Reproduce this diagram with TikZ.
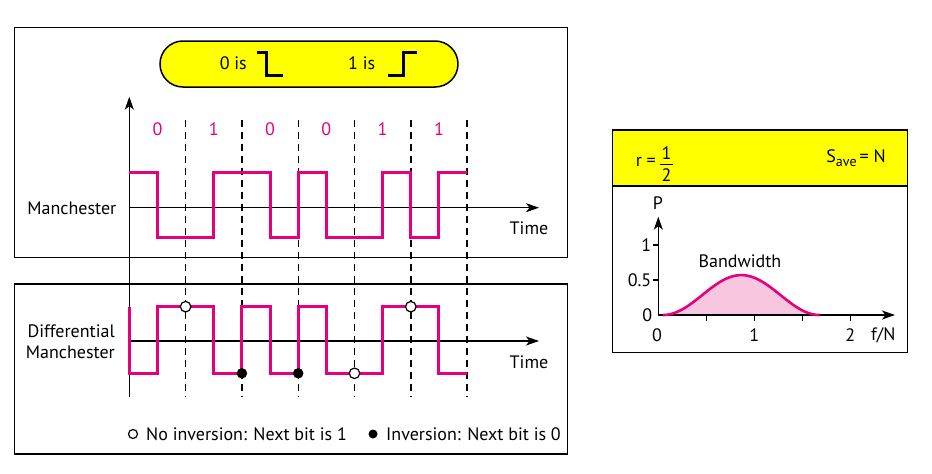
\documentclass[tikz,border=0pt]{standalone}
\usepackage{fontspec}
\setmainfont{PT Sans}
\usetikzlibrary{arrows.meta}
\definecolor{sig}{RGB}{230,0,126}
\definecolor{sigfill}{RGB}{249,198,224}
\definecolor{ylw}{RGB}{255,255,0}
\begin{document}
\begin{tikzpicture}[x=1pt,y=-1pt,
  lbl/.style={font=\fontsize{18}{21}\selectfont, inner sep=0pt},
  bitlbl/.style={lbl, text=sig},
  frame/.style={draw=black, line width=1.2pt},
  axis/.style={line width=1.2pt, -{Stealth[length=13pt,width=9pt,inset=3.5pt]}},
  sigline/.style={draw=sig, line width=3pt, line join=miter},
  gridline/.style={line width=1.4pt, dash pattern=on 7pt off 5pt},
  opendot/.style={circle, draw=black, fill=white, line width=1.2pt, minimum size=10.5pt, inner sep=0pt},
  fulldot/.style={circle, fill=black, minimum size=10.5pt, inner sep=0pt},
  tick/.style={line width=1.2pt}]
\useasboundingbox (0,0) rectangle (932,474);

% ---------- left frames ----------
\draw[frame] (14.3,27.5) rectangle (567.5,257.5);
\draw[frame] (14.3,284) rectangle (567.5,454);

% pill
\node[draw, line width=1.5pt, fill=ylw, rounded corners=23pt, minimum width=298pt, minimum height=46pt] (pill) at (309,64) {};
\node[lbl] (zerois) at (233.3,63.3) {0 is};
\draw[line width=3pt] (256.7,52) -- (266.7,52) -- (266.7,75.7) -- (283.3,75.7);
\node[lbl] (oneis) at (361.7,63.3) {1 is};
\draw[line width=3pt] (388.3,75.7) -- (403.3,75.7) -- (403.3,52) -- (416.7,52);

% dashed bit boundaries
\foreach \bx in {185.6,241.9,298.2,354.5,410.8,467.1}{
  \draw[gridline] (\bx,120) -- (\bx,397);
}

% axes
\coordinate (vbot) at (129.3,397);
\coordinate (vtop) at (129.3,96.7);
\coordinate (h1a) at (129.3,207.7);
\coordinate (h1b) at (539,207.7);
\coordinate (h2a) at (129.3,341);
\coordinate (h2b) at (539,341);
\draw[axis] (vbot) -- (vtop);
\draw[axis] (h1a) -- (h1b);
\draw[axis] (h2a) -- (h2b);

% bit labels
\node[bitlbl] (b0) at (157.45,129.3) {0};
\node[bitlbl] (b1) at (213.75,129.3) {1};
\node[bitlbl] (b2) at (270.05,129.3) {0};
\node[bitlbl] (b3) at (326.35,129.3) {0};
\node[bitlbl] (b4) at (382.65,129.3) {1};
\node[bitlbl] (b5) at (438.95,129.3) {1};

% Manchester signal
\draw[sigline] (129.3,172.7) -| (157.45,237.7) -| (213.75,172.7) -| (270.05,237.7) -| (298.2,172.7) -| (326.35,237.7) -| (382.65,172.7) -| (410.8,237.7) -| (438.95,172.7) -- (467.1,172.7);

% Differential Manchester signal
\draw[sigline] (129.3,306.7) -- (129.3,373.3) -| (157.45,306.7) -| (213.75,373.3) -| (241.9,306.7) -| (270.05,373.3) -| (298.2,306.7) -| (326.35,373.3) -| (382.65,306.7) -| (438.95,373.3) -- (467.1,373.3);

\node[opendot] (c1) at (185.6,306.7) {};
\node[fulldot] (c2) at (241.9,373.3) {};
\node[fulldot] (c3) at (298.2,373.3) {};
\node[opendot] (c4) at (354.5,373.3) {};
\node[opendot] (c5) at (410.8,306.7) {};

% labels
\node[lbl, anchor=east] (man) at (116.5,208) {Manchester};
\node[lbl] (time1) at (529,228) {Time};
\node[lbl, anchor=east, align=right] (dman) at (115,341.7) {Differential\\Manchester};
\node[lbl] (time2) at (529,362) {Time};

% legend
\node[opendot, minimum size=9pt] (lg1) at (133,434) {};
\node[lbl, anchor=west] (lt1) at (146,434) {No inversion: Next bit is 1};
\node[fulldot, minimum size=9pt] (lg2) at (373,434) {};
\node[lbl, anchor=west] (lt2) at (386,434) {Inversion: Next bit is 0};

% ---------- right panel ----------
\fill[ylw] (612.3,130) rectangle (907.3,186);
\draw[frame] (612.3,130) rectangle (907.3,352.7);
\draw[frame] (612.3,186) -- (907.3,186);

\node[lbl, anchor=east] (req) at (656,162) {r =};
\node[lbl] (num) at (666.5,153.5) {1};
\node[lbl] (den) at (666.5,175) {2};
\draw[line width=0.9pt] (660,164.5) -- (673,164.5);
\node[lbl] (save) at (856,158) {S\raisebox{-4.5pt}{\fontsize{14}{14}\selectfont ave}\,= N};

% spectrum
\fill[sigfill] plot[domain=0.05:1.68, samples=80] ({658.3+96*\x}, {315-70*0.57*(1-cos(360*(\x-0.05)/1.63))/2}) -- cycle;
\coordinate (po) at (658.3,315);
\coordinate (py) at (658.3,216.7);
\coordinate (px) at (895,315);
\draw[axis] (po) -- (py);
\draw[axis] (po) -- (px);
\foreach \ty in {280,245}{ \draw[tick] (653,\ty) -- (658.3,\ty); }
\foreach \tx in {706.3,754.3,802.3,850.3}{ \draw[tick] (\tx,315) -- (\tx,321); }
\draw[sig, line width=2.6pt] plot[domain=0.05:1.68, samples=80] ({658.3+96*\x}, {315-70*0.57*(1-cos(360*(\x-0.05)/1.63))/2});

\node[lbl] (plab) at (658,203) {P};
\node[lbl, anchor=east] (y1) at (651.5,245) {1};
\node[lbl, anchor=east] (y05) at (651.5,280) {0.5};
\node[lbl, anchor=east] (y0) at (652.5,315) {0};
\node[lbl] (x0) at (657,335) {0};
\node[lbl] (x1) at (754.3,335) {1};
\node[lbl] (x2) at (850.3,335) {2};
\node[lbl] (fn) at (883.3,335) {f/N};
\node[lbl] (bw) at (740,261) {Bandwidth};
\end{tikzpicture}
\end{document}
